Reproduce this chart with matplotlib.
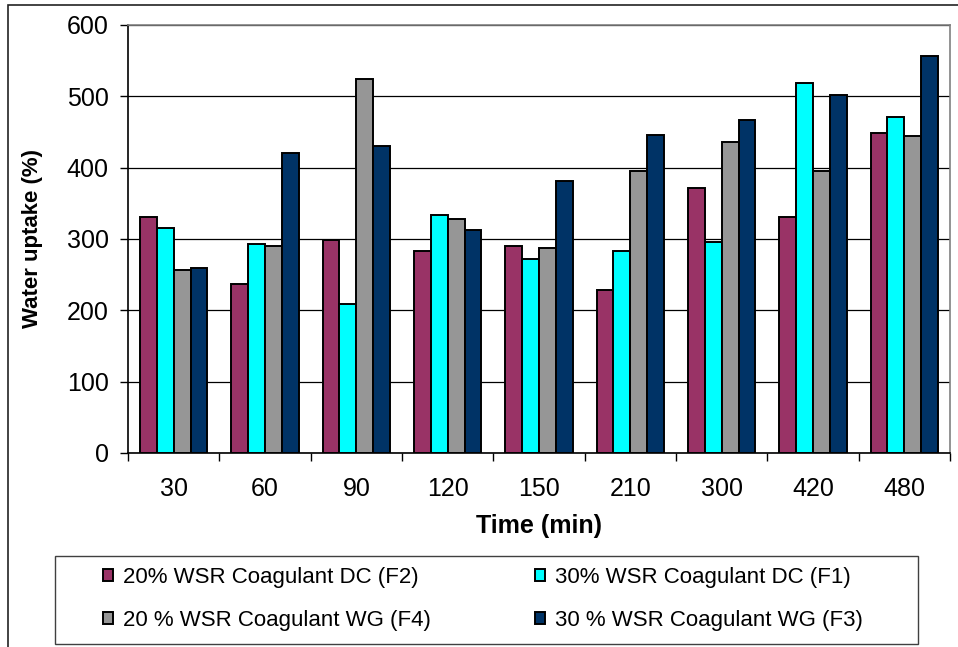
import numpy as np
import matplotlib
matplotlib.use('Agg')
import matplotlib.pyplot as plt
from matplotlib.patches import Rectangle

plt.rcParams['font.family'] = ['Liberation Sans', 'DejaVu Sans']

times = ['30', '60', '90', '120', '150', '210', '300', '420', '480']
f2 = [331, 237, 298, 283, 290, 229, 372, 331, 449]
f1 = [316, 293, 209, 333, 272, 283, 296, 518, 471]
f4 = [257, 290, 525, 328, 288, 395, 436, 395, 444]
f3 = [260, 420, 431, 313, 382, 446, 467, 502, 556]

labels = ['20% WSR Coagulant DC (F2)', '30% WSR Coagulant DC (F1)',
          '20 % WSR Coagulant WG (F4)', '30 % WSR Coagulant WG (F3)']
colors = ['#993366', '#00FFFF', '#969696', '#003366']

W, H = 958, 647
fig = plt.figure(figsize=(W / 100, H / 100), dpi=100)
ax = fig.add_axes([128 / W, 1 - 453 / H, (950 - 128) / W, (453 - 25) / H])

# outer chart frame (only top and left are inside the picture)
fig.patches.append(Rectangle((8 / W, -0.2), 2, 1.2 - 5 / H, transform=fig.transFigure,
                             fill=False, edgecolor='#222222', linewidth=1.2))

x = np.arange(len(times))
bw = 0.185
series = [f2, f1, f4, f3]
bars = []
for i, vals in enumerate(series):
    b = ax.bar(x + (i - 1.5) * bw, vals, bw, color=colors[i], edgecolor='black',
               linewidth=1.4, label=labels[i], zorder=3)
    bars.append(b)

ax.set_xlim(-0.5, len(times) - 0.5)
ax.set_ylim(0, 600)
ax.set_yticks(range(0, 601, 100))
ax.set_xticks(x)
ax.set_xticklabels(times)
ax.set_xticks(np.arange(-0.5, len(times), 1), minor=True)
ax.tick_params(axis='x', which='major', length=0, pad=17, labelsize=18)
ax.tick_params(axis='x', which='minor', length=6, width=1)
ax.tick_params(axis='y', length=6, width=1, labelsize=18, pad=8)
ax.grid(axis='y', color='black', linewidth=0.9, zorder=0)

for side in ['top', 'right']:
    ax.spines[side].set_color('#808080')
    ax.spines[side].set_linewidth(1.2)
for side in ['left', 'bottom']:
    ax.spines[side].set_color('black')
    ax.spines[side].set_linewidth(1.2)

ax.set_ylabel('Water uptake (%)', fontsize=16, fontweight='bold', labelpad=17)
ax.set_xlabel('Time (min)', fontsize=18, fontweight='bold', labelpad=10)

# legend box drawn separately, entries row-wise: F2 F1 / F4 F3
fig.patches.append(Rectangle((55 / W, 1 - 644 / H), 863 / W, 88 / H,
                             transform=fig.transFigure, fill=False,
                             edgecolor='#404040', linewidth=1.0))
order = [0, 2, 1, 3]
leg = fig.legend(handles=[bars[i] for i in order], labels=[labels[i] for i in order],
                 ncol=2, loc='upper left', bbox_to_anchor=(103 / W, 1 - 567 / H),
                 fontsize=16, frameon=False,
                 handlelength=0.45, handleheight=0.45, handletextpad=0.45,
                 borderaxespad=0, borderpad=0, labelspacing=1.0,
                 columnspacing=4.7)

fig.savefig('out.png', dpi=100)
